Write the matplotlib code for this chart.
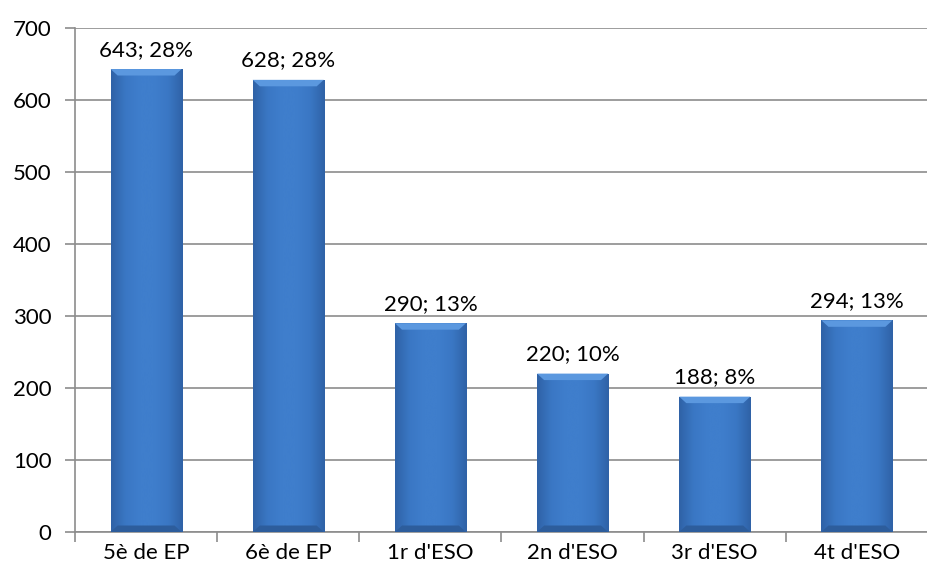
import numpy as np
import matplotlib
matplotlib.use("Agg")
import matplotlib.pyplot as plt
from matplotlib.colors import LinearSegmentedColormap

categories = ["5è de EP", "6è de EP", "1r d'ESO", "2n d'ESO", "3r d'ESO", "4t d'ESO"]
values = [643, 628, 290, 220, 188, 294]
percents = [28, 28, 13, 10, 8, 13]
yticks = [0, 100, 200, 300, 400, 500, 600, 700]

plt.rcParams["font.family"] = ["Lato", "DejaVu Sans"]

fig = plt.figure(figsize=(9.28, 5.77), dpi=100)
ax = fig.add_axes([75 / 928, 45 / 577, 853 / 928, 504 / 577])

x = np.arange(len(categories))
width = 0.5
bars = ax.bar(x, values, width=width, color="#3d7cc9", edgecolor="none", zorder=3)

# horizontal shading across each bar for a rounded look
cmap = LinearSegmentedColormap.from_list(
    "bevel", ["#2f62a6", "#3a77c4", "#3f7ecc", "#3f7ecc", "#3a77c4", "#2f62a6"])
grad = np.linspace(0, 1, 256).reshape(1, -1)
for b, v, p in zip(bars, values, percents):
    x0 = b.get_x()
    im = ax.imshow(grad, cmap=cmap, aspect="auto", extent=(x0, x0 + width, 0, v),
                   zorder=3.5, interpolation="bicubic")
    im.set_clip_path(b)
    # lighter top bevel
    bev_h = 9
    ax.fill([x0, x0 + width, x0 + width - 0.05, x0 + 0.05],
            [v, v, v - bev_h, v - bev_h], color="#5b98df", zorder=4, lw=0)
    # darker bottom bevel
    ax.fill([x0, x0 + width, x0 + width - 0.05, x0 + 0.05],
            [0, 0, bev_h, bev_h], color="#2d5d9c", zorder=4, lw=0)
    ax.text(b.get_x() + width / 2, v + 13, f"{v}; {p}%",
            ha="center", va="bottom", fontsize=16, color="#000000", zorder=5)

ax.set_xlim(-0.5, len(categories) - 0.5)
ax.set_ylim(0, 700)
ax.set_yticks(yticks)
ax.set_yticklabels([str(t) for t in yticks], fontsize=16)
ax.yaxis.grid(True, color="#8c8c8c", linewidth=1.2, zorder=0)
ax.set_axisbelow(True)

ax.set_xticks(x)
ax.set_xticklabels(categories, fontsize=16)
ax.tick_params(axis="x", length=0, pad=8)
ax.set_xticks(np.arange(len(categories) + 1) - 0.5, minor=True)
ax.tick_params(axis="x", which="minor", length=7, width=1.2, color="#8c8c8c")
ax.tick_params(axis="y", length=7, width=1.2, color="#8c8c8c", pad=10)

for s in ["top", "right"]:
    ax.spines[s].set_visible(False)
for s in ["left", "bottom"]:
    ax.spines[s].set_color("#8c8c8c")
    ax.spines[s].set_linewidth(1.2)

fig.savefig("out.png", dpi=100)
